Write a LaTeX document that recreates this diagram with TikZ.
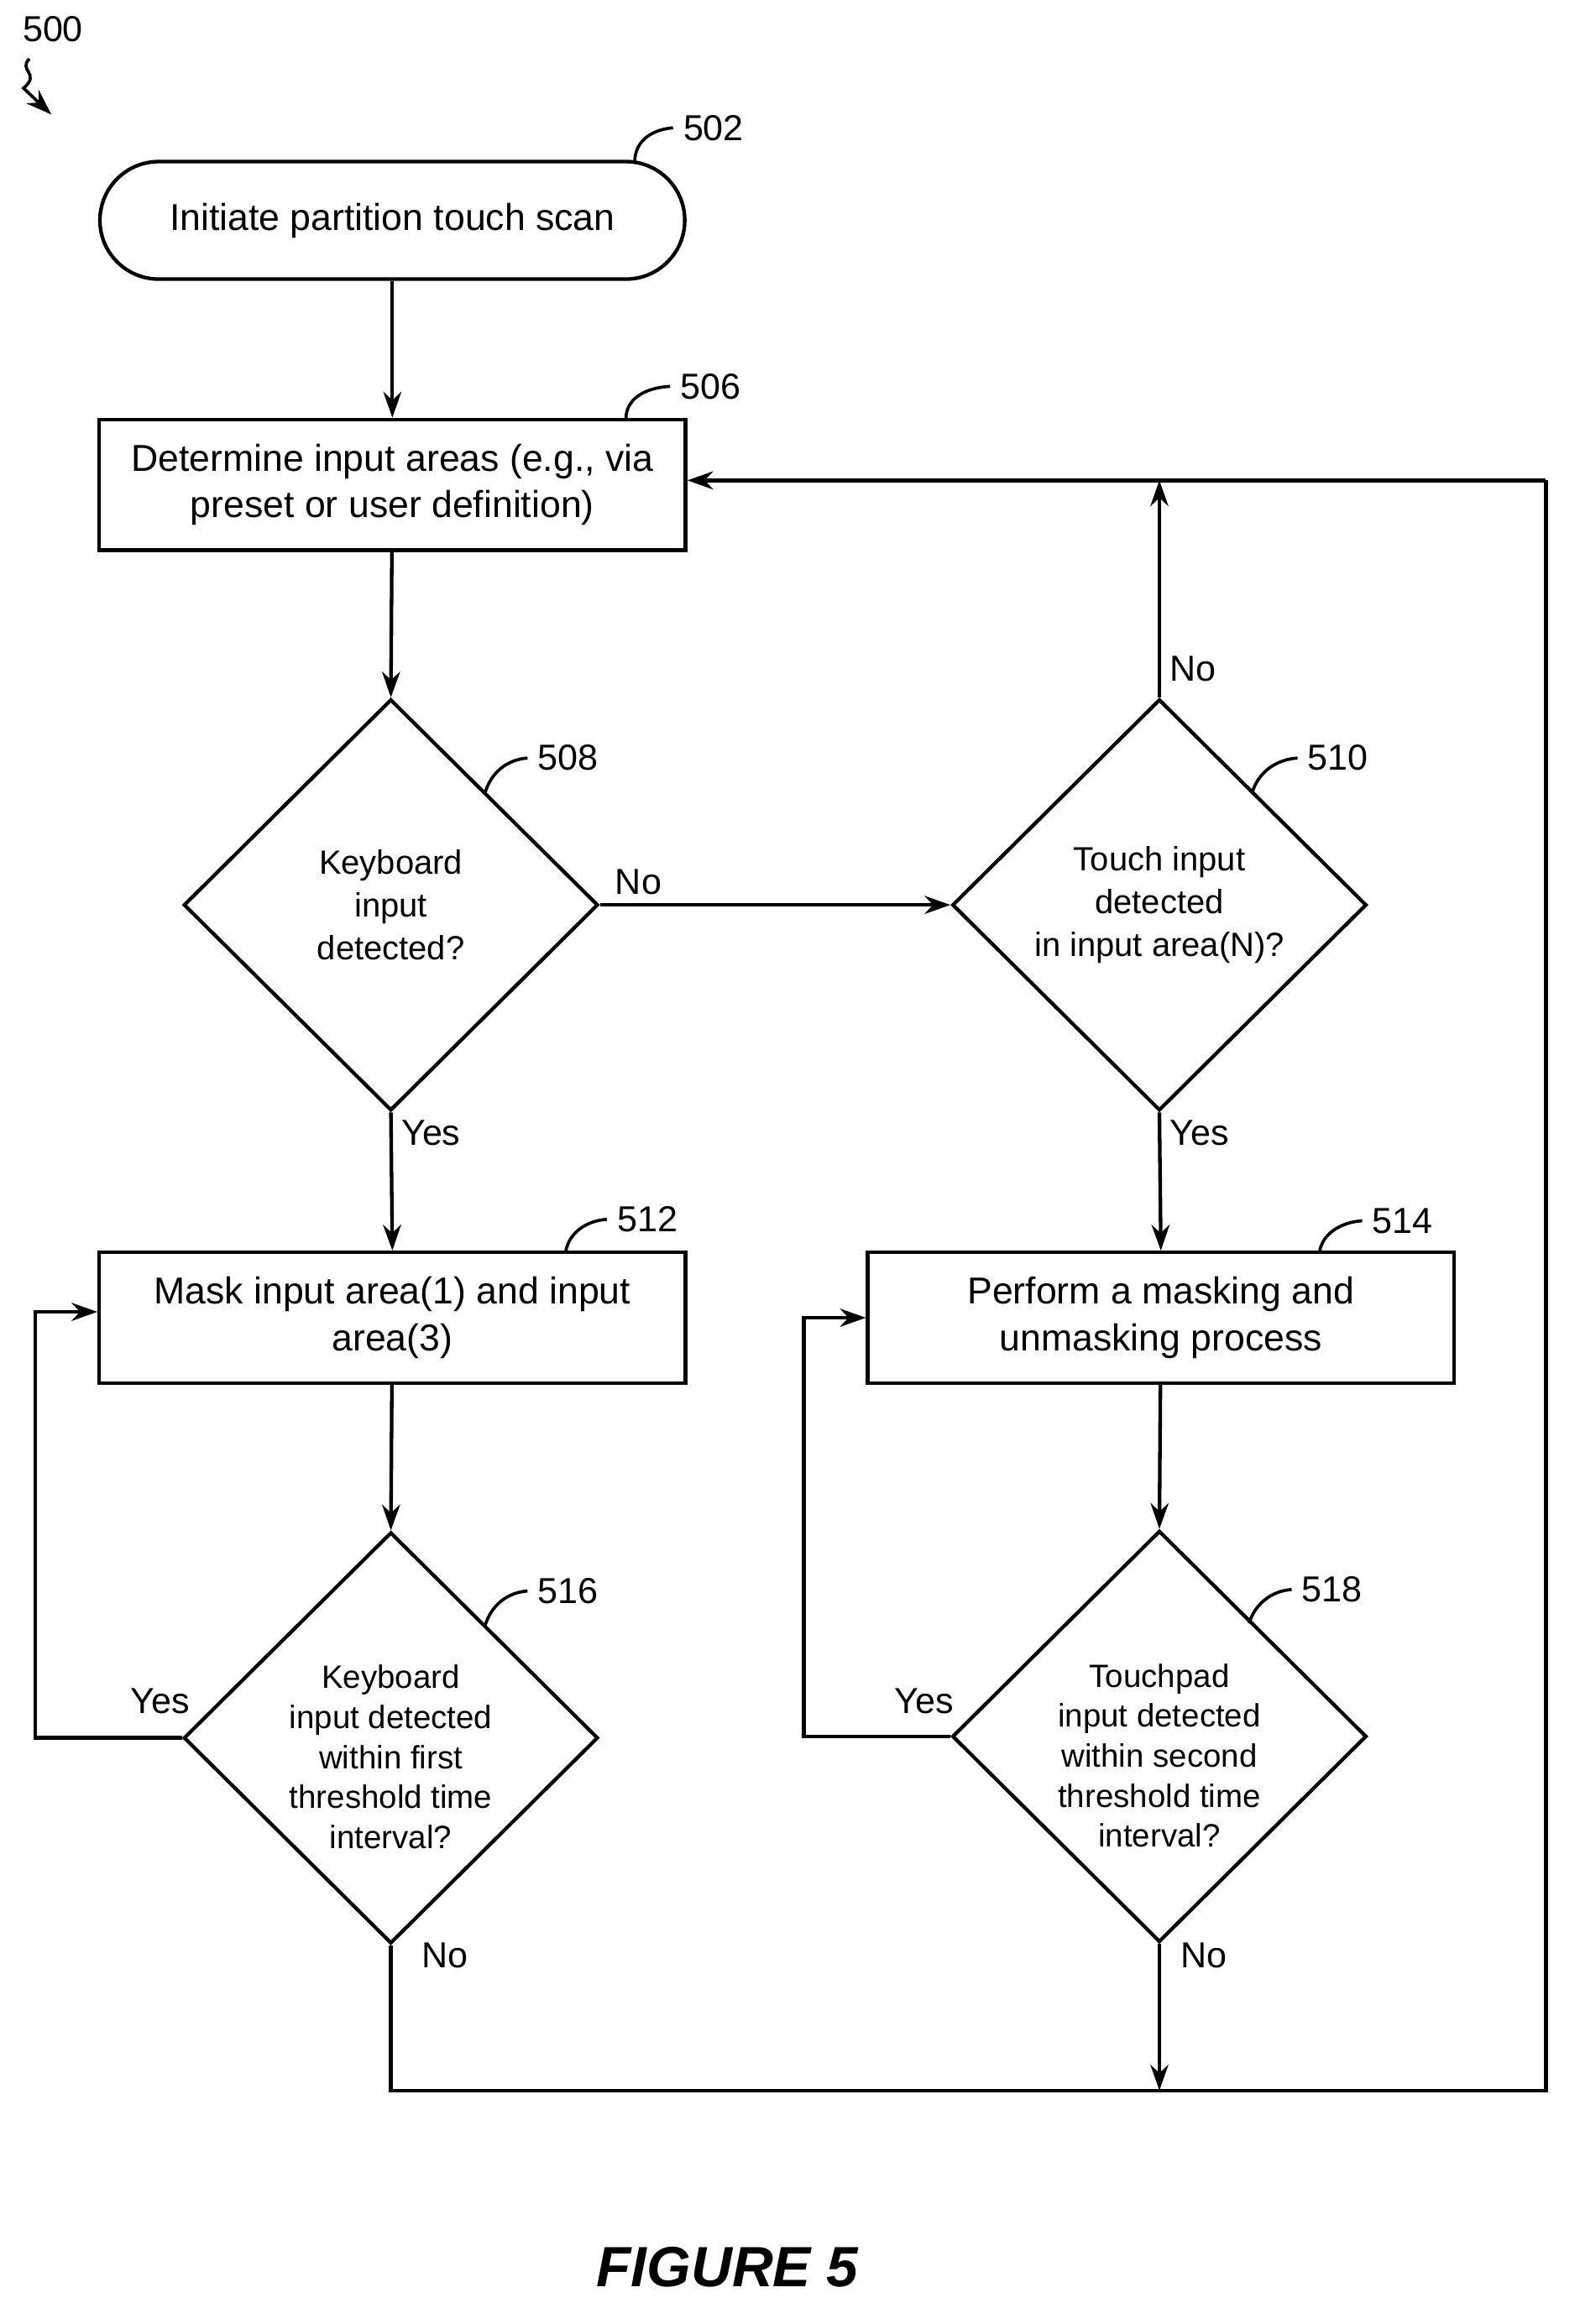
\documentclass[tikz,border=0pt]{standalone}
\usepackage{fontspec}
\setmainfont{Liberation Sans}
\usetikzlibrary{shapes.geometric,arrows.meta}
\begin{document}
\begin{tikzpicture}[x=0.02cm,y=-0.02cm,
  line width=1.4pt,
  >={Stealth[length=10pt,width=7pt]},
  box/.style={draw,minimum width=399*0.02cm,minimum height=89*0.02cm,align=center,font=\fontsize{14.5}{18}\selectfont,inner sep=2pt},
  term/.style={draw,rounded corners=40*0.02cm,minimum width=398*0.02cm,minimum height=80*0.02cm,font=\fontsize{14.5}{18}\selectfont},
  dia/.style={draw,diamond,minimum width=282*0.02cm,minimum height=280*0.02cm,inner sep=0pt},
  dtxt/.style={align=center,font=\fontsize{13}{16.5}\selectfont},
  lbl/.style={font=\fontsize{14}{16}\selectfont},
  ref/.style={font=\fontsize{14}{16}\selectfont,anchor=west},
  lead/.style={line width=1.2pt}]
\useasboundingbox (0,0) rectangle (1075,1582);
\node[term] (n502) at (267,150) {Initiate partition touch scan};
\node[box] (n506) at (267,330) {Determine input areas (e.g., via\\preset or user definition)};
\node[dia] (n508) at (266,616) {};
\node[dtxt] at (266,616) {Keyboard\\input\\detected?};
\node[dia] (n510) at (789,616) {};
\node[dtxt] at (789,616) {Touch input\\detected\\in input area(N)?};
\node[box] (n512) at (267,897) {Mask input area(1) and input\\area(3)};
\node[box] (n514) at (790,897) {Perform a masking and\\unmasking process};
\node[dia] (n516) at (266,1183) {};
\node[dtxt,font=\fontsize{12.5}{15.5}\selectfont] at (266,1196) {Keyboard\\input detected\\within first\\threshold time\\interval?};
\node[dia] (n518) at (789,1182) {};
\node[dtxt,font=\fontsize{12.5}{15.5}\selectfont] at (789,1195) {Touchpad\\input detected\\within second\\threshold time\\interval?};
\coordinate (br) at (1052,1423);
\coordinate (tr) at (1052,327);
\coordinate (bl) at (266,1423);
\coordinate (m18) at (789,1423);
\coordinate (top10) at (789,327);
\draw[->] (n502) -- (n506);
\draw[->] (n506) -- (n508.north);
\draw[->] (n508.east) -- (n510.west) node[lbl,pos=0.11,above] {No};
\draw[->] (n508.south) -- (n512.north) node[lbl,pos=0.15,right] {Yes};
\draw[->] (n510.south) -- (n514.north) node[lbl,pos=0.15,right] {Yes};
\draw[->] (n510.north) -- (top10) node[lbl,pos=0.13,right] {No};
\draw[->] (n512) -- (n516.north);
\draw[->] (n514) -- (n518.north);
\draw[->] (n516.west) -- (24,1183) -- (24,893) -- (n512.west |- 0,893);
\node[lbl] at (109,1158) {Yes};
\draw[->] (n518.west) -- (547,1182) -- (547,897) -- (n514.west);
\node[lbl] at (629,1158) {Yes};
\draw (n516.south) -- (bl) -- (br) -- (tr);
\draw[->] (tr) -- (n506.east |- tr);
\draw[->] (n518.south) -- (m18);
\node[lbl] at (303,1331) {No};
\node[lbl] at (819,1331) {No};
% refs
\node[ref] (r502) at (458,87) {502};
\draw[lead] (432,110) .. controls (432,95) and (445,88) .. (r502.west);
\node[ref] (r506) at (456,263) {506};
\draw[lead] (426,285) .. controls (426,272) and (438,264) .. (r506.west);
\node[ref] (r508) at (359,516) {508};
\draw[lead] (330,540) .. controls (334,526) and (345,517) .. (r508.west);
\node[ref] (r510) at (883,516) {510};
\draw[lead] (852,540) .. controls (856,526) and (868,517) .. (r510.west);
\node[ref] (r512) at (413,830) {512};
\draw[lead] (385,852) .. controls (387,840) and (398,831) .. (r512.west);
\node[ref] (r514) at (927,831) {514};
\draw[lead] (898,852) .. controls (900,840) and (912,832) .. (r514.west);
\node[ref] (r516) at (359,1083) {516};
\draw[lead] (330,1107) .. controls (334,1093) and (345,1084) .. (r516.west);
\node[ref] (r518) at (879,1082) {518};
\draw[lead] (850,1105) .. controls (854,1092) and (865,1083) .. (r518.west);
\node[lbl] (r500) at (36,20) {500};
\coordinate (a500) at (35,78);
\draw[lead,->] (20,40) .. controls (12,48) and (28,50) .. (16,60) -- (a500);
\node[font=\bfseries\itshape\fontsize{22}{26}\selectfont] (fig) at (495,1543) {FIGURE 5};
\end{tikzpicture}
\end{document}
